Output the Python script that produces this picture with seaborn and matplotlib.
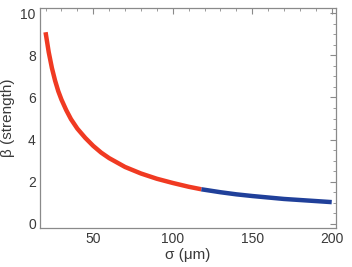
import numpy as np
import pandas as pd
import matplotlib
matplotlib.use("Agg")
import matplotlib.pyplot as plt
import seaborn as sns
from matplotlib.ticker import MultipleLocator

# values
sigma_red = [20, 22, 24, 26, 28, 30, 33, 36, 40, 45, 50, 55, 60, 70, 80, 90, 100, 110, 118]
beta_red = [9.1, 8.15, 7.4, 6.8, 6.3, 5.9, 5.4, 4.97, 4.52, 4.08, 3.7, 3.38, 3.12, 2.7, 2.39, 2.14, 1.94, 1.76, 1.64]
sigma_blue = [118, 130, 140, 150, 160, 170, 180, 190, 200]
beta_blue = [1.64, 1.5, 1.4, 1.32, 1.25, 1.18, 1.13, 1.08, 1.03]

df = pd.DataFrame({
    "sigma": sigma_red + sigma_blue,
    "beta": beta_red + beta_blue,
    "part": ["red"] * len(sigma_red) + ["blue"] * len(sigma_blue),
})

sns.set_style("white")
plt.rcParams["font.family"] = ["Liberation Sans", "DejaVu Sans"]

fig = plt.figure(figsize=(3.52, 2.67), dpi=100)
ax = fig.add_axes([0.1136, 0.146, 0.841, 0.824])

sns.lineplot(data=df, x="sigma", y="beta", hue="part",
             palette={"red": "#f03a22", "blue": "#20409a"},
             linewidth=3.2, legend=False, ax=ax, sort=False,
             solid_capstyle="butt")

ax.set_xlim(16.5, 202.7)
ax.set_ylim(-0.2, 10.25)
ax.xaxis.set_major_locator(MultipleLocator(50))
ax.xaxis.set_minor_locator(MultipleLocator(10))
ax.yaxis.set_major_locator(MultipleLocator(2))
ax.yaxis.set_minor_locator(MultipleLocator(0.5))

frame = "#8a8a8a"
for s in ax.spines.values():
    s.set_color(frame)
    s.set_linewidth(0.9)
ax.tick_params(which="both", direction="in", top=True, right=True,
               color=frame, labelcolor="#3a3a3a", labelsize=10)
ax.tick_params(which="major", length=4, width=0.8, pad=3)
ax.tick_params(which="minor", length=2.3, width=0.6)

ax.set_xlabel("σ (μm)", fontsize=11, color="#3a3a3a", labelpad=1)
ax.set_ylabel("β (strength)", fontsize=11, color="#3a3a3a", labelpad=4)

fig.savefig("out.png", dpi=100)
